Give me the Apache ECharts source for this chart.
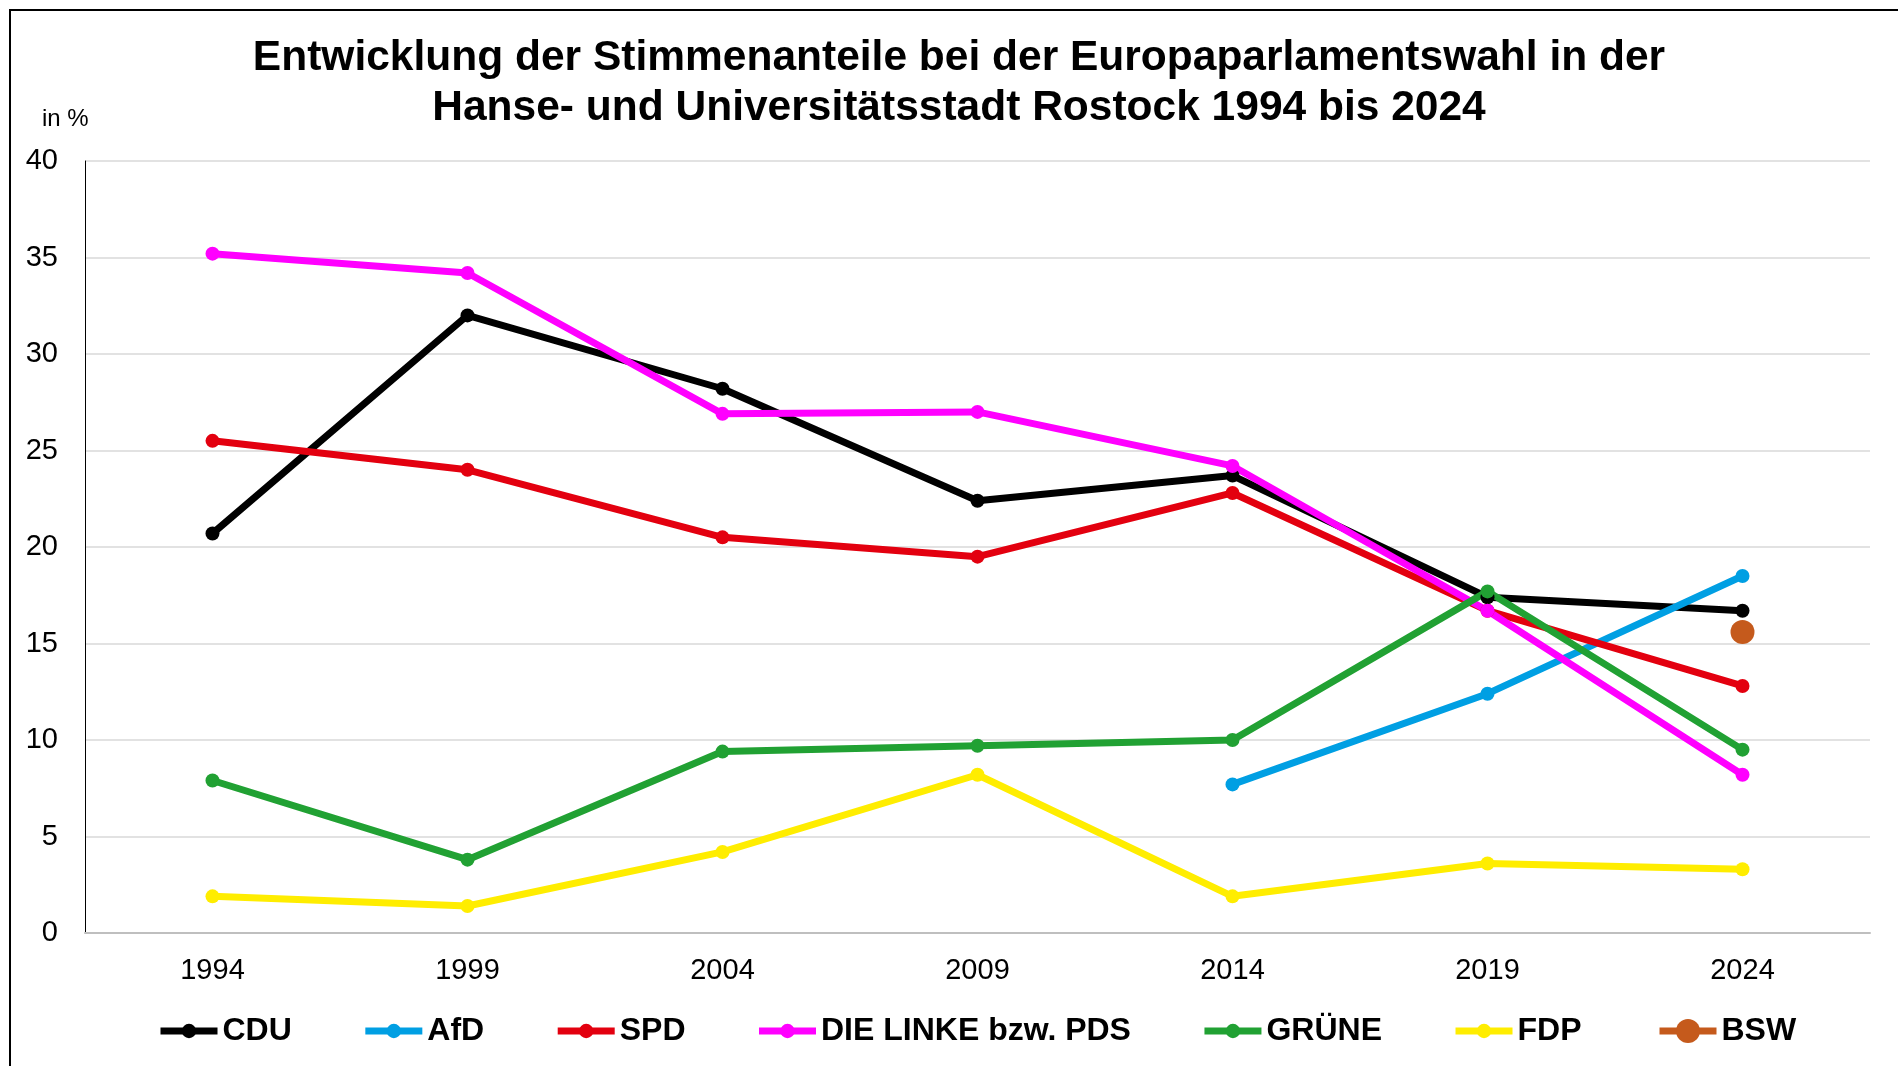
<!DOCTYPE html>
<html>
<head>
<meta charset="utf-8">
<script src="https://cdn.jsdelivr.net/npm/echarts@6/dist/echarts.min.js"></script>
<style>
  html, body { margin: 0; padding: 0; background: #fff; }
  #main { width: 1898px; height: 1066px; }
</style>
</head>
<body>
<div id="main"></div>
<script>
const years = ['1994', '1999', '2004', '2009', '2014', '2019', '2024'];

const cdu = [20.7, 32.0, 28.2, 22.4, 23.7, 17.4, 16.7];
const afd = [null, null, null, null, 7.7, 12.4, 18.5];
const spd = [25.5, 24.0, 20.5, 19.5, 22.8, 16.7, 12.8];
const linke = [35.2, 34.2, 26.9, 27.0, 24.2, 16.7, 8.2];
const gruene = [7.9, 3.8, 9.4, 9.7, 10.0, 17.7, 9.5];
const fdp = [1.9, 1.4, 4.2, 8.2, 1.9, 3.6, 3.3];
const bsw = [null, null, null, null, null, null, 15.6];

const font = "'Liberation Sans', Arial, sans-serif";

const chart = echarts.init(document.getElementById('main'));

// one line series per party
function party(name, data, color, size) {
  return {
    name: name,
    type: 'line',
    data: data,
    symbol: 'circle',
    symbolSize: size || 14,
    showAllSymbol: true,
    lineStyle: { color: color, width: 7 },
    itemStyle: { color: color },
    emphasis: { disabled: true },
    animation: false
  };
}

const legendText = {
  fontFamily: font,
  fontSize: 32,
  fontWeight: 'bold',
  color: '#000'
};

const option = {
  backgroundColor: '#fff',
  title: {
    text: 'Entwicklung der Stimmenanteile bei der Europaparlamentswahl in der\nHanse- und Universitätsstadt Rostock 1994 bis 2024',
    left: 959,
    textAlign: 'center',
    top: 33,
    padding: 0,
    textStyle: {
      fontFamily: font,
      fontSize: 42.5,
      fontWeight: 'bold',
      color: '#000',
      lineHeight: 50
    }
  },
  graphic: [
    {
      type: 'rect',
      shape: { x: 10, y: 10, width: 2000, height: 2000 },
      style: { fill: 'none', stroke: '#000', lineWidth: 2 },
      silent: true
    },
    {
      type: 'text',
      left: 42,
      top: 107,
      style: { text: 'in %', fontFamily: font, fontSize: 24, fill: '#000' }
    }
  ],
  legend: [
    {
      left: 152,
      top: 1010,
      itemWidth: 57,
      itemHeight: 18,
      itemGap: 70,
      lineStyle: { width: 7 },
      textStyle: legendText,
      data: ['CDU', 'AfD', 'SPD', 'DIE LINKE bzw. PDS', 'GRÜNE', 'FDP']
    },
    {
      left: 1651,
      top: 1010,
      itemWidth: 57,
      itemHeight: 30,
      lineStyle: { width: 7 },
      textStyle: legendText,
      data: ['BSW']
    }
  ],
  grid: { left: 85, right: 28, top: 161, bottom: 133 },
  xAxis: {
    type: 'category',
    data: years,
    boundaryGap: true,
    axisLine: { lineStyle: { color: '#bfbfbf', width: 2 } },
    axisTick: { show: false },
    axisLabel: { fontFamily: font, fontSize: 29, color: '#000', margin: 23 }
  },
  yAxis: {
    type: 'value',
    min: 0,
    max: 40,
    interval: 5,
    axisLine: { show: true, lineStyle: { color: '#000', width: 1 } },
    axisTick: { show: false },
    axisLabel: { fontFamily: font, fontSize: 29, color: '#000', margin: 27 },
    splitLine: { lineStyle: { color: '#d9d9d9', width: 1.5 } }
  },
  series: [
    party('CDU', cdu, '#000000'),
    party('AfD', afd, '#009fe3'),
    party('SPD', spd, '#e3000f'),
    party('DIE LINKE bzw. PDS', linke, '#ff00ff'),
    party('GRÜNE', gruene, '#21a133'),
    party('FDP', fdp, '#ffed00'),
    party('BSW', bsw, '#c55a1c', 24)
  ]
};

chart.setOption(option);
</script>
</body>
</html>
